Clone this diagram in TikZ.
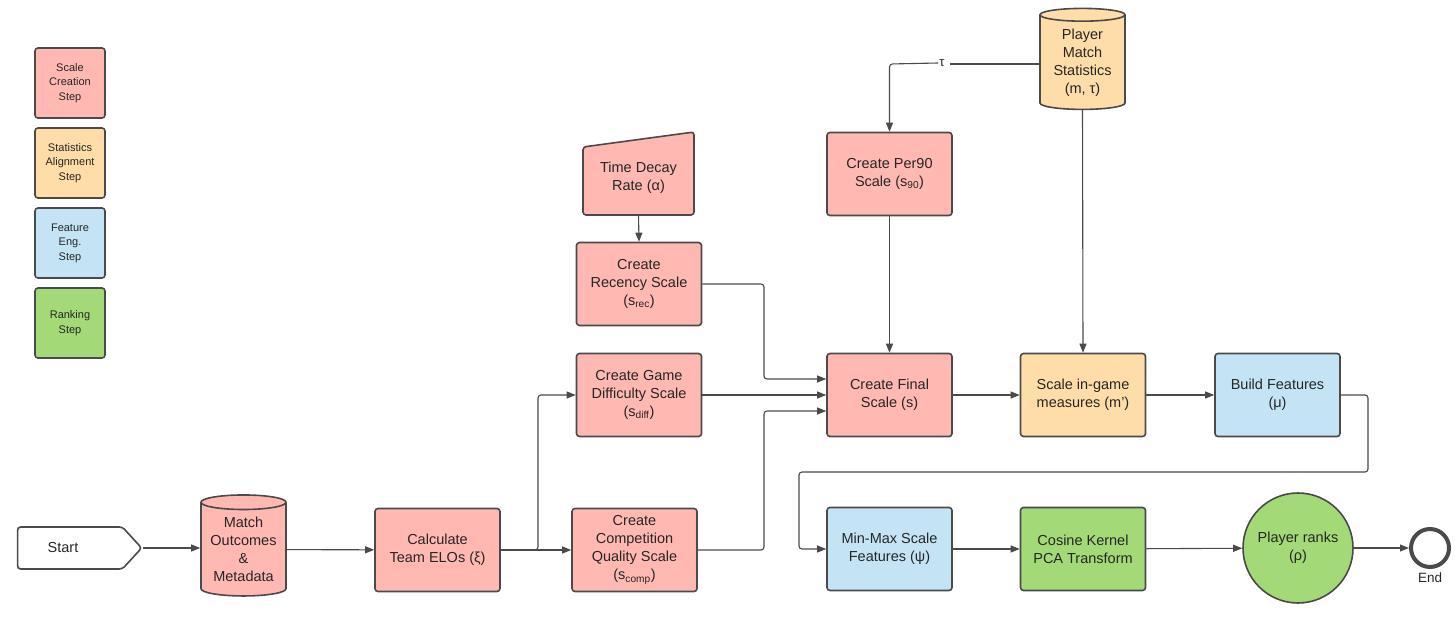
\documentclass[tikz,border=0pt]{standalone}
\usepackage{fontspec}
\setmainfont{Liberation Sans}
\usetikzlibrary{shapes.geometric,shapes.symbols,arrows.meta}
\definecolor{pk}{HTML}{FFB8B2}
\definecolor{og}{HTML}{FFDDA8}
\definecolor{bl}{HTML}{C4E4F6}
\definecolor{gr}{HTML}{A3D977}
\definecolor{ln}{HTML}{4A4A4A}
\begin{document}
\begin{tikzpicture}[x=1pt,y=-1pt,
  every node/.style={font=\fontsize{14.5}{18}\selectfont, text=black!85, align=center},
  box/.style={draw=ln, line width=1.6pt, rounded corners=3pt, minimum width=125pt, minimum height=83pt, inner sep=2pt},
  leg/.style={draw=ln, line width=1.6pt, rounded corners=3pt, minimum width=70pt, minimum height=70pt, font=\fontsize{11}{14.5}\selectfont},
  db/.style={draw=ln, line width=1.6pt, cylinder, shape border rotate=90, aspect=0.22, minimum width=85pt, minimum height=101pt, inner sep=0pt},
  arr/.style={draw=ln, line width=1.1pt, -{Triangle[length=9pt,width=7pt]}, rounded corners=3pt},
  ln/.style={draw=ln, line width=1.1pt, rounded corners=3pt}]
\useasboundingbox (0,0) rectangle (1456,617);
\node[leg, fill=pk] (l1) at (70,83) {Scale\\Creation\\Step};
\node[leg, fill=og] (l2) at (70,163) {Statistics\\Alignment\\Step};
\node[leg, fill=bl] (l3) at (70,243) {Feature\\Eng.\\Step};
\node[leg, fill=gr] (l4) at (70,323) {Ranking\\Step};

\node[signal, signal to=east, signal pointer angle=95, draw=ln, line width=1.6pt, rounded corners=3pt, fill=white, minimum width=124pt, minimum height=42pt, inner sep=0pt] (start) at (70,548) {Start\hspace*{14pt}};
\node[db, fill=pk] (mo) at (243.5,549.5) {Match\\Outcomes\\\&\\Metadata};
\node[box, fill=pk] (elo) at (437.5,550) {Calculate\\Team ELOs (ξ)};
\node[box, fill=pk] (comp) at (634.5,550) {Create\\Competition\\Quality Scale\\(s\textsubscript{comp})};
\node[box, fill=pk] (diff) at (639,395) {Create Game\\Difficulty Scale\\(s\textsubscript{diff})};
\node[box, fill=pk] (rec) at (639,284) {Create\\Recency Scale\\(s\textsubscript{rec})};
\filldraw[fill=pk, draw=ln, line width=1.6pt, rounded corners=3pt] (583,147) -- (694,132) -- (694,215) -- (583,215) -- cycle;
\node[minimum width=111pt, minimum height=60pt] (td) at (638.5,178) {Time Decay\\Rate (α)};
\node[box, fill=pk] (p90) at (889.5,174) {Create Per90\\Scale (s\textsubscript{90})};
\node[db, fill=og] (pms) at (1082.5,62.5) {Player\\Match\\Statistics\\(m, τ)};
\node[box, fill=pk] (fin) at (889.5,395) {Create Final\\Scale (s)};
\node[box, fill=og] (sig) at (1083,395) {Scale in-game\\measures (m')};
\node[box, fill=bl] (bf) at (1277.5,395) {Build Features\\(μ)};
\node[box, fill=bl] (mm) at (889.5,549) {Min-Max Scale\\Features (ψ)};
\node[box, fill=gr] (cos) at (1083,549) {Cosine Kernel\\PCA Transform};
\node[circle, draw=ln, line width=1.6pt, fill=gr, minimum size=110pt, inner sep=0pt] (pr) at (1298,548) {Player ranks\\(ρ)};
\node[circle, draw=ln, line width=4pt, fill=white, minimum size=38pt, inner sep=0pt] (end) at (1430,548) {};
\node[font=\fontsize{13.5}{16}\selectfont, inner sep=0pt] (endl) at (1430,578) {End};

\draw[arr] (start.east) -- (mo.west |- start.east);
\draw[arr] (mo) -- (elo);
\draw[arr] (elo) -- (comp);
\draw[arr] (elo.east) -- (538,550) -- (538,395) -- (diff.west);
\draw[arr] (td.south |- 0,215) -- (rec.north);
\draw[arr] (rec.east) -- (764,284) -- (764,379) -- (fin.west |- 0,379);
\draw[arr] (diff) -- (fin);
\draw[arr] (comp.east) -- (764,550) -- (764,411) -- (fin.west |- 0,411);
\draw[arr] (p90) -- (fin);
\draw[ln] (pms.west |- 0,64) -- (950,64);
\node[fill=white, inner sep=1pt, font=\fontsize{13}{14}\selectfont] (tau) at (942,63) {τ};
\draw[arr] (tau.west) -- (889.5,64) -- (p90.north);
\draw[arr] (pms.south) -- (sig.north);
\draw[arr] (fin) -- (sig);
\draw[arr] (sig) -- (bf);
\draw[arr] (bf.east) -- (1368,395) -- (1368,472) -- (799,472) -- (799,549) -- (mm.west);
\draw[arr] (mm) -- (cos);
\draw[arr] (cos) -- (pr);
\draw[arr] (pr) -- (end);
\end{tikzpicture}
\end{document}
